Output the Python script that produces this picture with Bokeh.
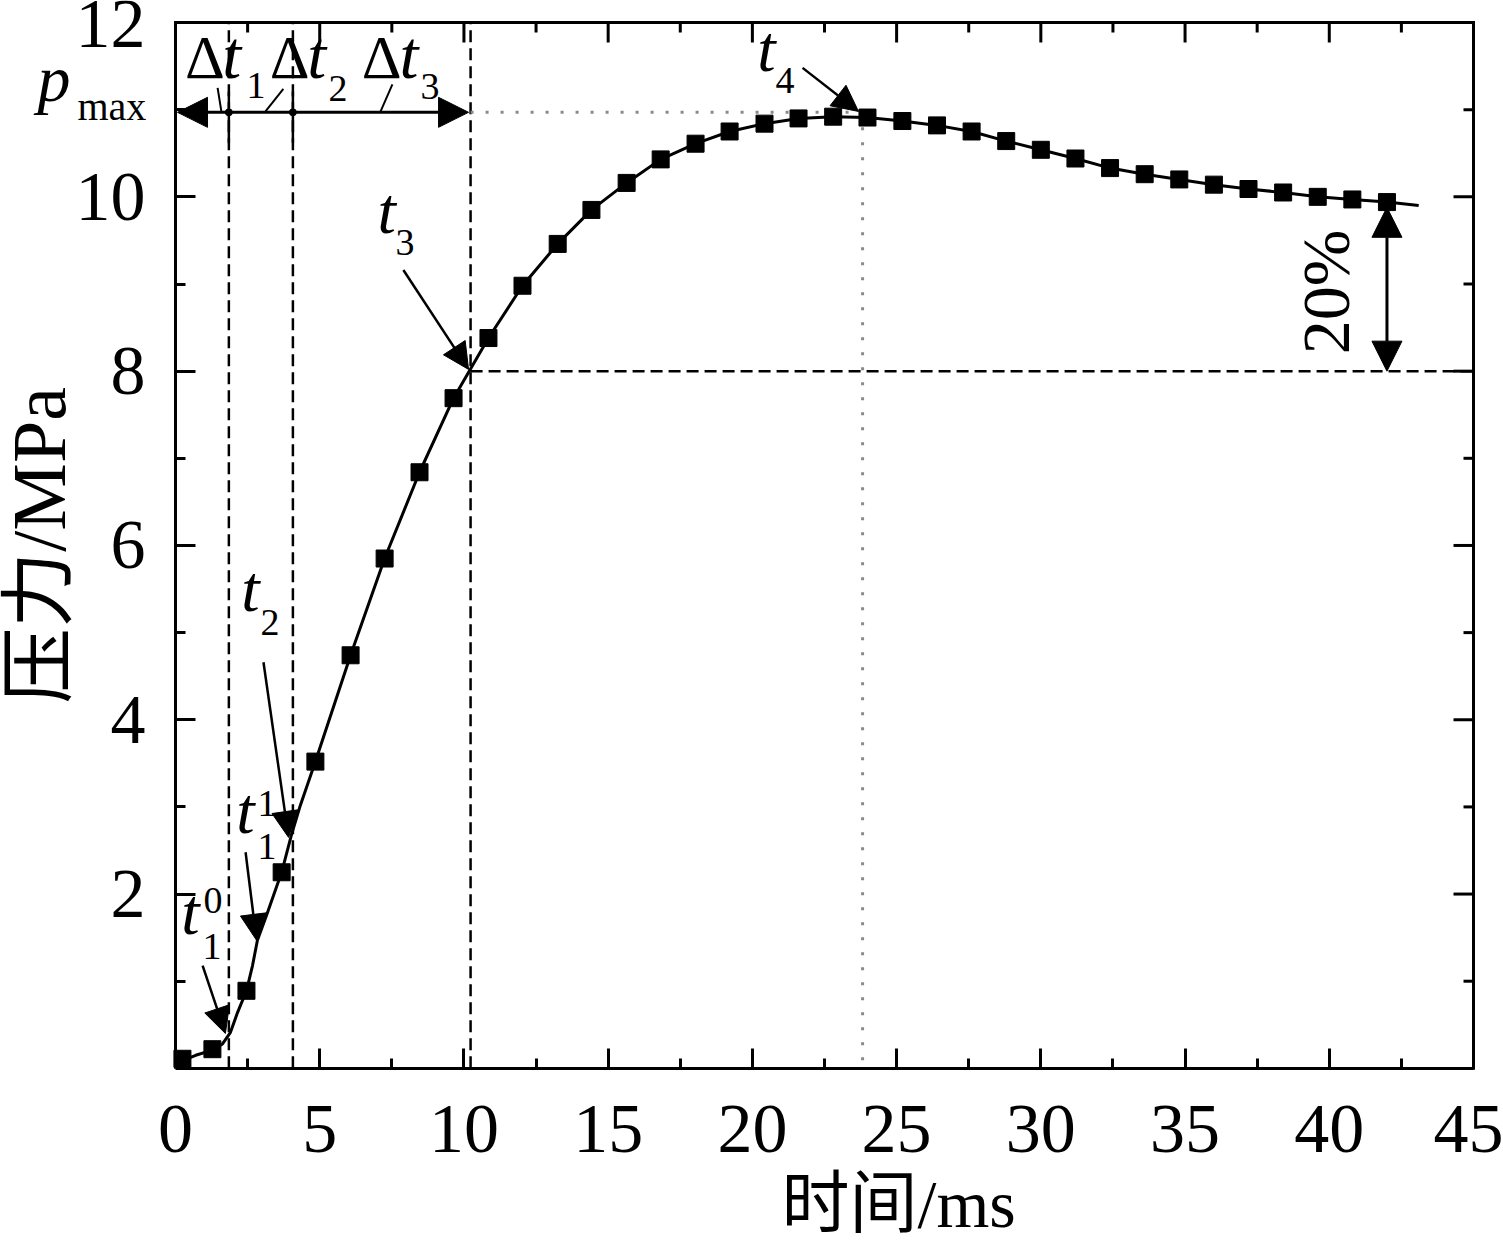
import math
from bokeh.plotting import figure
from bokeh.models import Range1d, FixedTicker, Label, Arrow, NormalHead
from bokeh.embed import file_html
from bokeh.resources import INLINE

# ---------------- data ----------------
marker_t = [0.24, 1.28, 2.46, 3.68, 4.85, 6.07, 7.25, 8.46, 9.64, 10.85, 12.03, 13.25,
            14.42, 15.64, 16.82, 18.03, 19.21, 20.42, 21.60, 22.80, 23.99, 25.20, 26.40,
            27.60, 28.80, 30.00, 31.20, 32.40, 33.60, 34.80, 36.00, 37.20, 38.40, 39.60,
            40.80, 42.00]
marker_p = [0.11, 0.22, 0.89, 2.25, 3.52, 4.74, 5.85, 6.84, 7.69, 8.38, 8.98, 9.46,
            9.85, 10.16, 10.43, 10.61, 10.75, 10.84, 10.90, 10.92, 10.91, 10.87, 10.82,
            10.75, 10.64, 10.54, 10.44, 10.33, 10.26, 10.20, 10.14, 10.09, 10.05, 10.00,
            9.97, 9.94]
curve_t = [0.00, 0.24, 0.70, 1.28, 1.63, 1.90, 2.15, 2.46, 2.67, 2.84, 3.16, 3.68, 4.02,
           4.33, 4.85, 6.07, 7.25, 8.46, 9.64, 10.85, 12.03, 13.25, 14.42, 15.64, 16.82,
           18.03, 19.21, 20.42, 21.60, 22.80, 23.99, 25.20, 26.40, 27.60, 28.80, 30.00,
           31.20, 32.40, 33.60, 34.80, 36.00, 37.20, 38.40, 39.60, 40.80, 42.00, 43.10]
curve_p = [0.02, 0.09, 0.15, 0.21, 0.28, 0.41, 0.64, 0.89, 1.18, 1.47, 1.76, 2.25, 2.68,
           3.02, 3.52, 4.74, 5.85, 6.84, 7.69, 8.38, 8.98, 9.46, 9.85, 10.16, 10.43,
           10.61, 10.75, 10.84, 10.90, 10.92, 10.91, 10.87, 10.82, 10.75, 10.64, 10.54,
           10.44, 10.33, 10.26, 10.20, 10.14, 10.09, 10.05, 10.00, 9.97, 9.94, 9.90]

t_dashed = [1.85, 4.07, 10.23]      # vertical dashed lines (t1, t2, t3)
t3 = 10.23
t4 = 23.82
p_max = 10.97
p_level = 8.0
t_end = 42.0
p_end = 9.88
X_MAX = 45
Y_MAX = 12
x_ticks = [0, 5, 10, 15, 20, 25, 30, 35, 40, 45]
x_minor = [2.5, 7.5, 12.5, 17.5, 22.5, 27.5, 32.5, 37.5, 42.5]
y_ticks = [2, 4, 6, 8, 10, 12]
y_minor = [1, 3, 5, 7, 9, 11]
x_title = "时间/ms"
y_title = "压力/MPa"

SERIF = "'Liberation Serif', 'Times New Roman', serif"
MIXED = "'Liberation Serif', 'Noto Sans CJK SC', serif"

# The drawing frame covers the whole canvas; the axes are pinned at t=0 / p=0 and
# bounded to the data box, so that the texts round the box are never clipped.
p = figure(width=1503, height=1244, output_backend="svg", toolbar_location=None,
           x_range=Range1d(-6.067, 46.04), y_range=Range1d(-2.021, 12.253),
           min_border=0, min_border_left=0, min_border_right=0,
           min_border_top=0, min_border_bottom=0)
p.grid.visible = False
p.outline_line_color = None
p.background_fill_color = "white"
p.border_fill_color = "white"

xa = p.xaxis[0]
ya = p.yaxis[0]
xa.ticker = FixedTicker(ticks=x_ticks, minor_ticks=x_minor)
ya.ticker = FixedTicker(ticks=y_ticks, minor_ticks=y_minor)
xa.fixed_location = 0
ya.fixed_location = 0
xa.bounds = (0, X_MAX)
ya.bounds = (0, Y_MAX)

for ax in (xa, ya):
    ax.axis_line_width = 3
    ax.axis_line_color = "black"
    ax.major_tick_in = 20
    ax.major_tick_out = 0
    ax.minor_tick_in = 10
    ax.minor_tick_out = 0
    ax.major_tick_line_width = 3
    ax.minor_tick_line_width = 3
    ax.major_label_text_font = SERIF
    ax.major_label_text_font_size = "70px"
    ax.major_label_text_color = "black"
xa.major_label_standoff = 38
ya.major_label_standoff = 30

# top and right edges of the box
p.segment(x0=[0, X_MAX], y0=[Y_MAX, 0], x1=[X_MAX, X_MAX], y1=[Y_MAX, Y_MAX],
          line_color="black", line_width=3, line_cap="square")

# ticks on the top and right edges (inward)
p.ray(x=x_ticks, y=[Y_MAX] * len(x_ticks), length=20, length_units="screen",
      angle=-math.pi / 2, line_color="black", line_width=3)
p.ray(x=x_minor, y=[Y_MAX] * len(x_minor), length=10, length_units="screen",
      angle=-math.pi / 2, line_color="black", line_width=3)
p.ray(x=[X_MAX] * len(y_ticks), y=y_ticks, length=20, length_units="screen",
      angle=math.pi, line_color="black", line_width=3)
p.ray(x=[X_MAX] * len(y_minor), y=y_minor, length=10, length_units="screen",
      angle=math.pi, line_color="black", line_width=3)

# axis titles
p.add_layout(Label(x=X_MAX / 2 + 2.57, y=-1.56, text=x_title, text_font=MIXED,
                   text_font_size="68px", text_align="center", text_baseline="middle",
                   text_color="black"))
p.add_layout(Label(x=-4.72, y=Y_MAX / 2, text=y_title, text_font=MIXED,
                   text_font_size="76px", text_align="center", text_baseline="middle",
                   angle=math.pi / 2, text_color="black"))

# ---------------- reference lines ----------------
p.segment(x0=t_dashed, y0=[0] * 3, x1=t_dashed, y1=[Y_MAX] * 3,
          line_color="black", line_width=2.5, line_dash="12 6")
p.segment(x0=[t3], y0=[p_level], x1=[X_MAX], y1=[p_level],
          line_color="black", line_width=2.5, line_dash="12 6")
p.segment(x0=[t3, t4], y0=[p_max, p_max], x1=[t4, t4], y1=[p_max, 0],
          line_color="#8a8a8a", line_width=3, line_dash="3 12")
# short solid marks at t1 and t2 on the p_max arrow
p.segment(x0=t_dashed[:2], y0=[10.62, 10.62], x1=t_dashed[:2], y1=[11.21, 11.21],
          line_color="black", line_width=2.5)

# ---------------- curve ----------------
p.line(curve_t, curve_p, line_color="black", line_width=3)
p.scatter(marker_t, marker_p, marker="square", size=17, fill_color="black",
          line_color="black")
p.scatter(t_dashed[:2], [p_max, p_max], marker="circle", size=7, fill_color="black",
          line_color="black")

# ---------------- arrows ----------------
def head(s):
    return NormalHead(size=s, fill_color="black", line_color="black", line_width=1)

p.add_layout(Arrow(start=head(30), end=head(30), x_start=0.07, y_start=p_max,
                   x_end=10.16, y_end=p_max, line_width=3, line_color="black"))
p.add_layout(Arrow(start=head(30), end=head(30), x_start=t_end, y_start=p_end,
                   x_end=t_end, y_end=p_level, line_width=3, line_color="black"))
arrows = [
    (7.90, 9.16, 10.16, 8.02),    # t3
    (21.74, 11.48, 23.68, 10.98),  # t4
    (3.05, 4.66, 3.92, 2.65),     # t2
    (2.43, 2.48, 2.81, 1.47),     # t1^1
    (0.94, 1.18, 1.73, 0.40),     # t1^0
]
for xs, ys, xe, ye in arrows:
    p.add_layout(Arrow(end=head(26), x_start=xs, y_start=ys, x_end=xe, y_end=ye,
                       line_width=2.5, line_color="black"))

# leader lines for the delta labels
p.segment(x0=[1.46, 3.12, 7.11], y0=[11.25, 10.98, 10.98],
          x1=[1.59, 3.74, 7.52], y1=[10.98, 11.24, 11.29],
          line_color="black", line_width=2)

# ---------------- texts ----------------
def lab(x, y, text, size, style="normal"):
    # the glyph baseline is lifted by about a third of the font size
    p.add_layout(Label(x=x, y=y, text=text, text_font=SERIF,
                       text_font_size=f"{size}px", text_font_style=style,
                       text_baseline="alphabetic", text_align="left",
                       y_offset=round(0.36 * size), text_color="black"))

# p_max
lab(-4.78, 11.08, "p", 66, "italic")
lab(-3.40, 10.88, "max", 40)
# delta t labels
lab(0.33, 11.35, "Δ", 62)
lab(1.62, 11.35, "t", 68, "italic")
lab(2.46, 11.12, "1", 38)
lab(3.27, 11.35, "Δ", 62)
lab(4.57, 11.35, "t", 68, "italic")
lab(5.30, 11.08, "2", 38)
lab(6.46, 11.35, "Δ", 62)
lab(7.77, 11.35, "t", 68, "italic")
lab(8.49, 11.10, "3", 38)
# t3
lab(7.00, 9.57, "t", 66, "italic")
lab(7.63, 9.31, "3", 38)
# t4
lab(20.17, 11.43, "t", 66, "italic")
lab(20.80, 11.17, "4", 38)
# t2
lab(2.28, 5.23, "t", 66, "italic")
lab(2.95, 4.95, "2", 38)
# t1^1
lab(2.11, 2.68, "t", 66, "italic")
lab(2.84, 2.88, "1", 38)
lab(2.84, 2.39, "1", 38)
# t1^0
lab(0.20, 1.53, "t", 66, "italic")
lab(0.97, 1.76, "0", 38)
lab(0.94, 1.24, "1", 38)
# 20 %
p.add_layout(Label(x=39.9, y=8.91, text="20%", text_font=SERIF, text_font_size="68px",
                   text_baseline="middle", text_align="center", angle=math.pi / 2,
                   text_color="black"))

open("out.html", "w").write(file_html(p, INLINE))
